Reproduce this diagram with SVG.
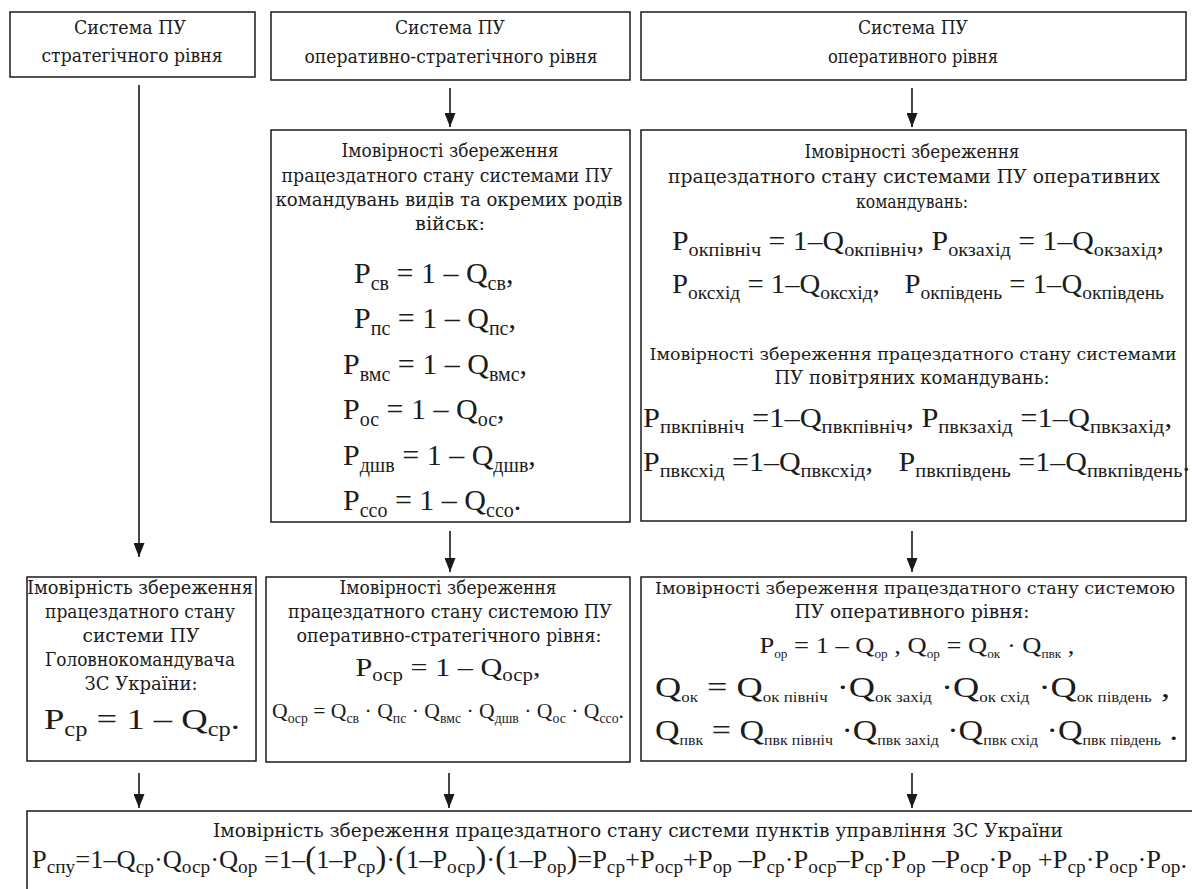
<svg xmlns="http://www.w3.org/2000/svg" width="1192" height="889" viewBox="0 0 1192 889">
<style>
text{fill:#1c1c1c}
.t{font-family:'DejaVu Serif','Liberation Serif',serif;font-size:18px}
.m{font-family:'Liberation Serif','DejaVu Serif',serif}
.c{text-anchor:middle}
.box{fill:#fff;stroke:#1a1a1a;stroke-width:1.5}
.ln{stroke:#1a1a1a;stroke-width:1.6;fill:none}
.f32{font-size:32px}.f30{font-size:30px}.s20{font-size:20px}.s21{font-size:21px}
.f28{font-size:28px}.f26{font-size:26px}.s19{font-size:19px}.s18{font-size:18px}
.f24{font-size:24px}.s15{font-size:15px}
.f22{font-size:22px}.s12{font-size:12px}
.s14{font-size:14px}.f21{font-size:21px}
.p32{font-size:32px}
.n17{font-size:17px}
</style>
<defs>
<marker id="ah" viewBox="0 0 14 11" refX="14" refY="5.5" markerWidth="14" markerHeight="11" markerUnits="userSpaceOnUse" orient="auto">
<path d="M0,0 L14,5.5 L0,11 z" fill="#1a1a1a"/>
</marker>
</defs>
<rect x="0" y="0" width="1192" height="889" fill="#fff"/>

<g id="connectors">
<path class="ln" d="M139,85 V557" marker-end="url(#ah)"/>
<path class="ln" d="M450,88 V127" marker-end="url(#ah)"/>
<path class="ln" d="M912,88 V127" marker-end="url(#ah)"/>
<path class="ln" d="M450,531 V572" marker-end="url(#ah)"/>
<path class="ln" d="M912,531 V572" marker-end="url(#ah)"/>
<path class="ln" d="M139,773 V808" marker-end="url(#ah)"/>
<path class="ln" d="M449,773 V808" marker-end="url(#ah)"/>
<path class="ln" d="M912,773 V808" marker-end="url(#ah)"/>
</g>

<g id="node-strat">
<rect class="box" x="10" y="12" width="245" height="65"/>
<text class="t c" x="130" y="34" textLength="112" lengthAdjust="spacingAndGlyphs">Система ПУ</text>
<text class="t c" x="132" y="62" textLength="181" lengthAdjust="spacingAndGlyphs">стратегічного рівня</text>
</g>

<g id="node-opstrat">
<rect class="box" x="271" y="12" width="359" height="68"/>
<text class="t c" x="450" y="34" textLength="110" lengthAdjust="spacingAndGlyphs">Система ПУ</text>
<text class="t c" x="451" y="63" textLength="293" lengthAdjust="spacingAndGlyphs">оперативно-стратегічного рівня</text>
</g>

<g id="node-oper">
<rect class="box" x="641" y="12" width="545" height="68"/>
<text class="t c" x="913" y="34" textLength="110" lengthAdjust="spacingAndGlyphs">Система ПУ</text>
<text class="t c" x="913" y="63" textLength="170" lengthAdjust="spacingAndGlyphs">оперативного рівня</text>
</g>

<g id="node-opstrat-probs">
<rect class="box" x="271" y="130" width="359" height="392"/>
<text class="t c" x="450" y="157" textLength="217" lengthAdjust="spacingAndGlyphs">Імовірності збереження</text>
<text class="t c" x="447" y="182" textLength="331" lengthAdjust="spacingAndGlyphs">працездатного стану системами ПУ</text>
<text class="t c" x="449" y="206" textLength="347" lengthAdjust="spacingAndGlyphs">командувань видів та окремих родів</text>
<text class="t c" x="450" y="230" textLength="70" lengthAdjust="spacingAndGlyphs">військ:</text>
<text class="m f30" x="354" y="283">P<tspan class="s20" dy="7">св</tspan><tspan dy="-7"> = 1 – Q</tspan><tspan class="s20" dy="7">св</tspan><tspan dy="-7">,</tspan></text>
<text class="m f30" x="354" y="328">P<tspan class="s20" dy="7">пс</tspan><tspan dy="-7"> = 1 – Q</tspan><tspan class="s20" dy="7">пс</tspan><tspan dy="-7">,</tspan></text>
<text class="m f30" x="343" y="374">P<tspan class="s20" dy="7">вмс</tspan><tspan dy="-7"> = 1 – Q</tspan><tspan class="s20" dy="7">вмс</tspan><tspan dy="-7">,</tspan></text>
<text class="m f30" x="343" y="419">P<tspan class="s20" dy="7">ос</tspan><tspan dy="-7"> = 1 – Q</tspan><tspan class="s20" dy="7">ос</tspan><tspan dy="-7">,</tspan></text>
<text class="m f30" x="343" y="465">P<tspan class="s20" dy="7">дшв</tspan><tspan dy="-7"> = 1 – Q</tspan><tspan class="s20" dy="7">дшв</tspan><tspan dy="-7">,</tspan></text>
<text class="m f30" x="343" y="510">P<tspan class="s20" dy="7">ссо</tspan><tspan dy="-7"> = 1 – Q</tspan><tspan class="s20" dy="7">ссо</tspan><tspan dy="-7">.</tspan></text>
</g>

<g id="node-oper-probs">
<rect class="box" x="641" y="130" width="545" height="391"/>
<text class="t c" x="912" y="158" textLength="215" lengthAdjust="spacingAndGlyphs">Імовірності збереження</text>
<text class="t c" x="914" y="183" textLength="492" lengthAdjust="spacingAndGlyphs">працездатного стану системами ПУ оперативних</text>
<text class="t c" x="912" y="208" textLength="112" lengthAdjust="spacingAndGlyphs">командувань:</text>
<text class="m f28" x="672" y="250" textLength="492" lengthAdjust="spacingAndGlyphs">P<tspan class="s19" dy="6">окпівніч</tspan><tspan dy="-6"> = 1–Q</tspan><tspan class="s19" dy="6">окпівніч</tspan><tspan dy="-6">, P</tspan><tspan class="s19" dy="6">окзахід</tspan><tspan dy="-6"> = 1–Q</tspan><tspan class="s19" dy="6">окзахід</tspan><tspan dy="-6">,</tspan></text>
<text class="m f28" x="672" y="293" textLength="492" lengthAdjust="spacingAndGlyphs">P<tspan class="s19" dy="6">оксхід</tspan><tspan dy="-6"> = 1–Q</tspan><tspan class="s19" dy="6">оксхід</tspan><tspan dy="-6">,</tspan><tspan dx="24">P</tspan><tspan class="s19" dy="6">окпівдень</tspan><tspan dy="-6"> = 1–Q</tspan><tspan class="s19" dy="6">окпівдень</tspan></text>
<text class="t n17 c" x="913" y="360" textLength="527" lengthAdjust="spacingAndGlyphs">Імовірності збереження працездатного стану системами</text>
<text class="t c" x="912" y="384" textLength="275" lengthAdjust="spacingAndGlyphs">ПУ повітряних командувань:</text>
<text class="m f28" x="643" y="427" textLength="529" lengthAdjust="spacingAndGlyphs">P<tspan class="s19" dy="6">пвкпівніч</tspan><tspan dy="-6"> =1–Q</tspan><tspan class="s19" dy="6">пвкпівніч</tspan><tspan dy="-6">, P</tspan><tspan class="s19" dy="6">пвкзахід</tspan><tspan dy="-6"> =1–Q</tspan><tspan class="s19" dy="6">пвкзахід</tspan><tspan dy="-6">,</tspan></text>
<text class="m f28" x="643" y="471" textLength="547" lengthAdjust="spacingAndGlyphs">P<tspan class="s19" dy="6">пвксхід</tspan><tspan dy="-6"> =1–Q</tspan><tspan class="s19" dy="6">пвксхід</tspan><tspan dy="-6">,</tspan><tspan dx="24">P</tspan><tspan class="s19" dy="6">пвкпівдень</tspan><tspan dy="-6"> =1–Q</tspan><tspan class="s19" dy="6">пвкпівдень</tspan><tspan dy="-6">.</tspan></text>
</g>

<g id="node-strat-result">
<rect class="box" x="27" y="577" width="229" height="184"/>
<text class="t c" x="140" y="594" textLength="226" lengthAdjust="spacingAndGlyphs">Імовірність збереження</text>
<text class="t c" x="140" y="618" textLength="190" lengthAdjust="spacingAndGlyphs">працездатного стану</text>
<text class="t c" x="141" y="642" textLength="117" lengthAdjust="spacingAndGlyphs">системи ПУ</text>
<text class="t c" x="140" y="666" textLength="190" lengthAdjust="spacingAndGlyphs">Головнокомандувача</text>
<text class="t c" x="141" y="690" textLength="113" lengthAdjust="spacingAndGlyphs">ЗС України:</text>
<text class="m f30 c" x="142" y="729" textLength="196" lengthAdjust="spacingAndGlyphs">P<tspan class="s20" dy="7">ср</tspan><tspan dy="-7"> = 1 – Q</tspan><tspan class="s20" dy="7">ср</tspan><tspan dy="-7">.</tspan></text>
</g>

<g id="node-opstrat-result">
<rect class="box" x="266" y="577" width="364" height="185"/>
<text class="t c" x="448" y="594" textLength="217" lengthAdjust="spacingAndGlyphs">Імовірності збереження</text>
<text class="t c" x="450" y="618" textLength="324" lengthAdjust="spacingAndGlyphs">працездатного стану системою ПУ</text>
<text class="t c" x="449" y="642" textLength="305" lengthAdjust="spacingAndGlyphs">оперативно-стратегічного рівня:</text>
<text class="m f26 c" x="448" y="676" textLength="185" lengthAdjust="spacingAndGlyphs">P<tspan class="s18" dy="5">оср</tspan><tspan dy="-5"> = 1 – Q</tspan><tspan class="s18" dy="5">оср</tspan><tspan dy="-5">,</tspan></text>
<text class="m f22 c" x="448" y="718" textLength="352" lengthAdjust="spacingAndGlyphs">Q<tspan class="s14" dy="5">оср</tspan><tspan dy="-5"> = Q</tspan><tspan class="s14" dy="5">св</tspan><tspan dy="-5"> · Q</tspan><tspan class="s14" dy="5">пс</tspan><tspan dy="-5"> · Q</tspan><tspan class="s14" dy="5">вмс</tspan><tspan dy="-5"> · Q</tspan><tspan class="s14" dy="5">дшв</tspan><tspan dy="-5"> · Q</tspan><tspan class="s14" dy="5">ос</tspan><tspan dy="-5"> · Q</tspan><tspan class="s14" dy="5">ссо</tspan><tspan dy="-5">.</tspan></text>
</g>

<g id="node-oper-result">
<rect class="box" x="641" y="577" width="545" height="184"/>
<text class="t n17 c" x="915" y="594" textLength="520" lengthAdjust="spacingAndGlyphs">Імовірності збереження працездатного стану системою</text>
<text class="t c" x="912" y="618" textLength="235" lengthAdjust="spacingAndGlyphs">ПУ оперативного рівня:</text>
<text class="m f24 c" x="917" y="653" textLength="315" lengthAdjust="spacingAndGlyphs">P<tspan class="s12" dy="5">ор</tspan><tspan dy="-5"> = 1 – Q</tspan><tspan class="s12" dy="5">ор</tspan><tspan dy="-5"> , Q</tspan><tspan class="s12" dy="5">ор</tspan><tspan dy="-5"> = Q</tspan><tspan class="s12" dy="5">ок</tspan><tspan dy="-5"> · Q</tspan><tspan class="s12" dy="5">пвк</tspan><tspan dy="-5"> ,</tspan></text>
<text class="m f30" x="655" y="697" textLength="515" lengthAdjust="spacingAndGlyphs">Q<tspan class="s14" dy="5">ок</tspan><tspan dy="-5"> = Q</tspan><tspan class="s14" dy="5">ок  північ</tspan><tspan dy="-5"> ·Q</tspan><tspan class="s14" dy="5">ок  захід</tspan><tspan dy="-5"> ·Q</tspan><tspan class="s14" dy="5">ок схід</tspan><tspan dy="-5"> ·Q</tspan><tspan class="s14" dy="5">ок південь</tspan><tspan dy="-5"> ,</tspan></text>
<text class="m f30" x="655" y="740" textLength="523" lengthAdjust="spacingAndGlyphs">Q<tspan class="s14" dy="5">пвк</tspan><tspan dy="-5"> = Q</tspan><tspan class="s14" dy="5">пвк  північ</tspan><tspan dy="-5"> ·Q</tspan><tspan class="s14" dy="5">пвк захід</tspan><tspan dy="-5"> ·Q</tspan><tspan class="s14" dy="5">пвк схід</tspan><tspan dy="-5"> ·Q</tspan><tspan class="s14" dy="5">пвк південь</tspan><tspan dy="-5"> .</tspan></text>
</g>

<g id="node-total">
<rect class="box" x="27" y="811" width="1180" height="100"/>
<text class="t c" x="638" y="837" textLength="850" lengthAdjust="spacingAndGlyphs">Імовірність збереження працездатного стану системи пунктів управління ЗС України</text>
<text class="m f26" x="32" y="868" textLength="1155" lengthAdjust="spacingAndGlyphs">P<tspan class="s19" dy="5">спу</tspan><tspan dy="-5">=1–Q</tspan><tspan class="s19" dy="5">ср</tspan><tspan dy="-5">·Q</tspan><tspan class="s19" dy="5">оср</tspan><tspan dy="-5">·Q</tspan><tspan class="s19" dy="5">ор</tspan><tspan dy="-5"> =1–</tspan><tspan class="p32">(</tspan><tspan>1–P</tspan><tspan class="s19" dy="5">ср</tspan><tspan class="p32" dy="-5">)</tspan><tspan>·</tspan><tspan class="p32">(</tspan><tspan>1–P</tspan><tspan class="s19" dy="5">оср</tspan><tspan class="p32" dy="-5">)</tspan><tspan>·</tspan><tspan class="p32">(</tspan><tspan>1–P</tspan><tspan class="s19" dy="5">ор</tspan><tspan class="p32" dy="-5">)</tspan><tspan>=P</tspan><tspan class="s19" dy="5">ср</tspan><tspan dy="-5">+P</tspan><tspan class="s19" dy="5">оср</tspan><tspan dy="-5">+P</tspan><tspan class="s19" dy="5">ор</tspan><tspan dy="-5"> –P</tspan><tspan class="s19" dy="5">ср</tspan><tspan dy="-5">·P</tspan><tspan class="s19" dy="5">оср</tspan><tspan dy="-5">–P</tspan><tspan class="s19" dy="5">ср</tspan><tspan dy="-5">·P</tspan><tspan class="s19" dy="5">ор</tspan><tspan dy="-5"> –P</tspan><tspan class="s19" dy="5">оср</tspan><tspan dy="-5">·P</tspan><tspan class="s19" dy="5">ор</tspan><tspan dy="-5"> +P</tspan><tspan class="s19" dy="5">ср</tspan><tspan dy="-5">·P</tspan><tspan class="s19" dy="5">оср</tspan><tspan dy="-5">·P</tspan><tspan class="s19" dy="5">ор</tspan><tspan dy="-5">.</tspan></text>
</g>
</svg>
